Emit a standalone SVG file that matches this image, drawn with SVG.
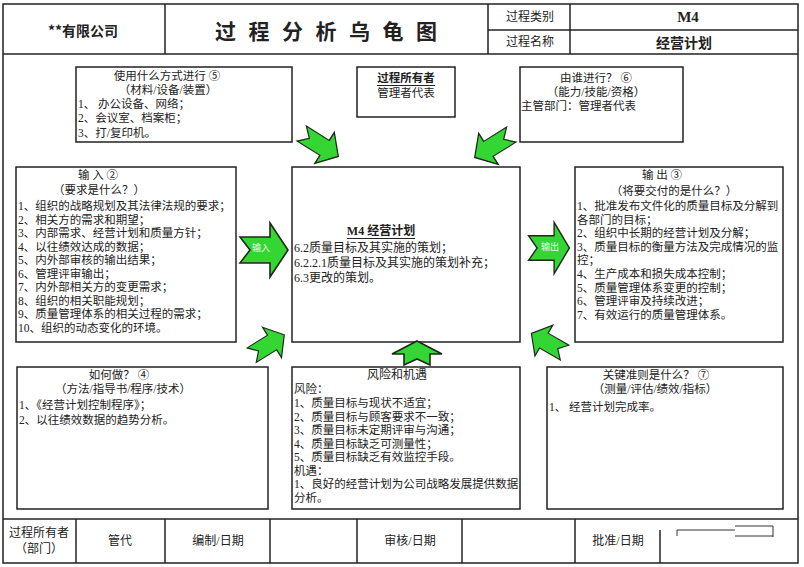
<svg xmlns="http://www.w3.org/2000/svg" width="804" height="567" viewBox="0 0 804 567">
<style>
text{font-family:"Liberation Serif","Noto Sans CJK SC",sans-serif;fill:#222;dominant-baseline:central}
.t{font-size:11.5px}
.m{text-anchor:middle}
.box{fill:#fff;stroke:#222;stroke-width:1.5}
.ln{stroke:#222;stroke-width:1.5;fill:none}
.ul{stroke:#222;stroke-width:1.2}
.arr{fill:#33d633;stroke:#1c2a1c;stroke-width:1.6;stroke-linejoin:miter;vector-effect:non-scaling-stroke}
.lab{font-size:9px;fill:#eaffea;text-anchor:middle}
</style>
<defs>
<polygon id="ar" points="-24,-13 6,-13 6,-27 24,0 6,27 6,13 -24,13 -14,0"/>
</defs>
<rect x="0" y="0" width="804" height="567" fill="#fff"/>
<g id="frame">
<rect x="3" y="4" width="795" height="559" class="ln"/>
<line x1="3" y1="54" x2="798" y2="54" class="ln"/>
<line x1="165" y1="4" x2="165" y2="54" class="ln"/>
<line x1="488" y1="4" x2="488" y2="54" class="ln"/>
<line x1="570" y1="4" x2="570" y2="54" class="ln"/>
<line x1="488" y1="30" x2="798" y2="30" class="ln" stroke-width="1"/>
<line x1="3" y1="519" x2="798" y2="519" class="ln"/>
<line x1="76" y1="519" x2="76" y2="563" class="ln"/>
<line x1="165" y1="519" x2="165" y2="563" class="ln"/>
<line x1="270" y1="519" x2="270" y2="563" class="ln"/>
<line x1="357" y1="519" x2="357" y2="563" class="ln"/>
<line x1="462" y1="519" x2="462" y2="563" class="ln"/>
<line x1="575" y1="519" x2="575" y2="563" class="ln"/>
<line x1="660" y1="530" x2="660" y2="563" class="ln" stroke-width="1"/>
<path d="M677,536 V530 H735 M735,526 H773 V537 M735,536 H773" fill="none" stroke="#333" stroke-width="1"/>
</g>
<g id="header">
<text x="83" y="30" class="m" style="font-size:14px;font-weight:bold;font-family:'Noto Sans CJK SC',sans-serif">**有限公司</text>
<text x="215" y="30" textLength="222" lengthAdjust="spacing" style="font-size:21px;font-weight:bold;font-family:'Noto Sans CJK SC',sans-serif">过 程 分 析 乌 龟 图</text>
<text x="530" y="17" class="m" style="font-size:12px">过程类别</text>
<text x="530" y="42" class="m" style="font-size:12px">过程名称</text>
<text x="688" y="17" class="m" style="font-size:15px;font-weight:bold">M4</text>
<text x="684" y="42" class="m" style="font-size:14px;font-weight:bold;font-family:'Noto Sans CJK SC',sans-serif">经营计划</text>
</g>
<g id="footer">
<text x="39" y="533" class="m" style="font-size:12px">过程所有者</text>
<text x="39" y="549" class="m" style="font-size:12px">（部门）</text>
<text x="120" y="541" class="m" style="font-size:12px">管代</text>
<text x="218" y="541" class="m" style="font-size:12px">编制/日期</text>
<text x="410" y="541" class="m" style="font-size:12px">审核/日期</text>
<text x="618" y="541" class="m" style="font-size:12px">批准/日期</text>
</g>
<g id="node-resources">
<rect x="76" y="67" width="216" height="75" class="box"/>
<text x="167" y="76" class="t m">使用什么方式进行 ⑤</text>
<text x="168" y="90" class="t m">（材料/设备/装置）</text>
<text x="78" y="104" class="t">1、  办公设备、网络；</text>
<text x="78" y="118" class="t">2、会议室、档案柜；</text>
<text x="78" y="133" class="t">3、打/复印机。</text>
</g>
<g id="node-owner">
<rect x="357" y="67" width="98" height="50" class="box"/>
<text x="406" y="78" class="t m" style="font-weight:bold">过程所有者</text>
<line x1="377" y1="85.5" x2="435" y2="85.5" class="ul"/>
<text x="406" y="93" class="t m">管理者代表</text>
</g>
<g id="node-who">
<rect x="520" y="67" width="163" height="75" class="box"/>
<text x="596" y="78" class="t m">由谁进行？ ⑥</text>
<text x="596" y="92" class="t m">（能力/技能/资格）</text>
<text x="521" y="106" class="t">主管部门：管理者代表</text>
</g>
<g id="node-input">
<rect x="16" y="167" width="220" height="175" class="box"/>
<text x="98" y="175" class="t m">输  入 ②</text>
<text x="99" y="190" class="t m">（要求是什么？）</text>
<text x="18" y="206" class="t">1、组织的战略规划及其法律法规的要求；</text>
<text x="18" y="219.5" class="t">2、相关方的需求和期望；</text>
<text x="18" y="233" class="t">3、内部需求、经营计划和质量方针；</text>
<text x="18" y="246.5" class="t">4、以往绩效达成的数据；</text>
<text x="18" y="260" class="t">5、内外部审核的输出结果；</text>
<text x="18" y="273.5" class="t">6、管理评审输出；</text>
<text x="18" y="287" class="t">7、内外部相关方的变更需求；</text>
<text x="18" y="300.5" class="t">8、组织的相关职能规划；</text>
<text x="18" y="314" class="t">9、质量管理体系的相关过程的需求；</text>
<text x="18" y="327.5" class="t">10、组织的动态变化的环境。</text>
</g>
<g id="node-process">
<rect x="292" y="167" width="228" height="175" class="box"/>
<text x="381" y="231" class="m" style="font-size:12px;font-weight:bold">M4 经营计划</text>
<line x1="347" y1="238.5" x2="415" y2="238.5" class="ul"/>
<text x="294" y="248" style="font-size:12px">6.2质量目标及其实施的策划；</text>
<text x="294" y="263" style="font-size:12px">6.2.2.1质量目标及其实施的策划补充；</text>
<text x="294" y="278" style="font-size:12px">6.3更改的策划。</text>
</g>
<g id="node-output">
<rect x="575" y="167" width="208" height="175" class="box"/>
<text x="662" y="175" class="t m">输  出  ③</text>
<text x="674" y="191" class="t m">（将要交付的是什么？）</text>
<text x="577" y="206" class="t">1、批准发布文件化的质量目标及分解到</text>
<text x="577" y="219.5" class="t">各部门的目标；</text>
<text x="577" y="233" class="t">2、组织中长期的经营计划及分解；</text>
<text x="577" y="246.5" class="t">3、质量目标的衡量方法及完成情况的监</text>
<text x="577" y="260" class="t">控；</text>
<text x="577" y="274" class="t">4、生产成本和损失成本控制；</text>
<text x="577" y="287.5" class="t">5、质量管理体系变更的控制；</text>
<text x="577" y="301" class="t">6、管理评审及持续改进；</text>
<text x="577" y="314.5" class="t">7、有效运行的质量管理体系。</text>
</g>
<g id="node-how">
<rect x="17" y="367" width="251" height="142" class="box"/>
<text x="119" y="375" class="t m">如何做？ ④</text>
<text x="123" y="389" class="t m">（方法/指导书/程序/技术）</text>
<text x="19" y="405" class="t">1、《经营计划控制程序》；</text>
<text x="19" y="420" class="t">2、以往绩效数据的趋势分析。</text>
</g>
<g id="node-risk">
<rect x="292" y="367" width="228" height="142" class="box"/>
<text x="397" y="375" class="m" style="font-size:12px">风险和机遇</text>
<text x="294" y="389" class="t">风险：</text>
<text x="294" y="403" class="t">1、质量目标与现状不适宜；</text>
<text x="294" y="416.5" class="t">2、质量目标与顾客要求不一致；</text>
<text x="294" y="430" class="t">3、质量目标未定期评审与沟通；</text>
<text x="294" y="443.5" class="t">4、质量目标缺乏可测量性；</text>
<text x="294" y="457" class="t">5、质量目标缺乏有效监控手段。</text>
<text x="294" y="470.5" class="t">机遇：</text>
<text x="294" y="484" class="t">1、良好的经营计划为公司战略发展提供数据</text>
<text x="294" y="497.5" class="t">分析。</text>
</g>
<g id="node-criteria">
<rect x="547" y="367" width="236" height="142" class="box"/>
<text x="656" y="375" class="t m">关键准则是什么？ ⑦</text>
<text x="655" y="389" class="t m">（测量/评估/绩效/指标）</text>
<text x="549" y="407" class="t">1、  经营计划完成率。</text>
</g>
<g id="connectors">
<use href="#ar" class="arr" transform="translate(264,250)"/>
<text x="261" y="248" class="lab">输入</text>
<use href="#ar" class="arr" transform="translate(549,248) scale(0.85,0.95)"/>
<text x="550" y="247" class="lab">输出</text>
<use href="#ar" class="arr" transform="translate(320,145) rotate(32) scale(0.9,0.68)"/>
<use href="#ar" class="arr" transform="translate(493,146) rotate(148) scale(0.9,0.68)"/>
<use href="#ar" class="arr" transform="translate(268,345) rotate(-32) scale(0.8,0.66)"/>
<use href="#ar" class="arr" transform="translate(548,343) rotate(-150) scale(0.8,0.66)"/>
<polygon class="arr" points="417,341 442,354 430,354 430,365 417,359 404,365 404,354 392,354"/>
</g>
</svg>
